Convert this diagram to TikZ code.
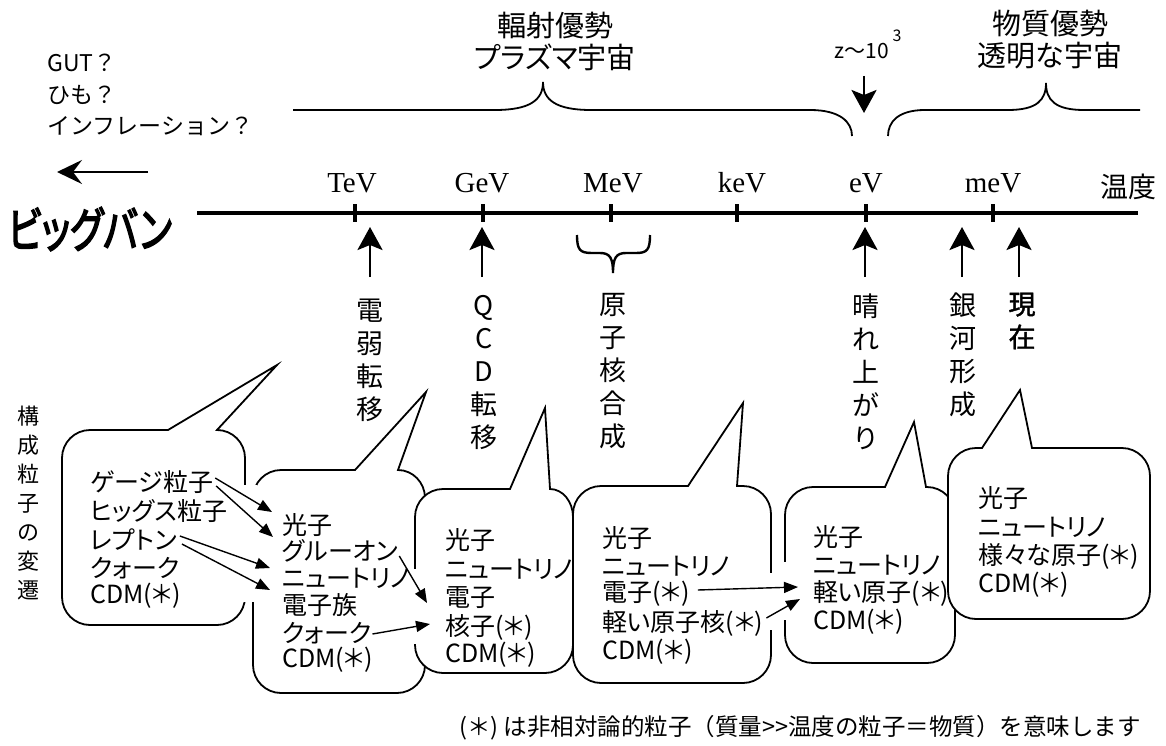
\documentclass[tikz,border=0pt]{standalone}
\usepackage{fontspec}
\usepackage{graphicx}
\usetikzlibrary{arrows.meta,calc}
\setmainfont{Noto Sans CJK JP}
\newfontfamily\jpfont{Noto Sans CJK JP}
\newfontfamily\jppfont{Noto Sans CJK JP}[RawFeature=+palt]
\newfontfamily\jpheavy{Noto Sans CJK JP}[FakeBold=3.5,RawFeature=+palt]
\newfontfamily\jpbold{Noto Sans CJK JP}[FakeBold=1.5]
\newfontfamily\tickfont{Liberation Serif}
% speech bubble: x1,y1,x2,y2, pointer base left, tip x, tip y, pointer base right
\newcommand{\bubble}[8]{%
  \path[bubble] (#5,#2) -- (#6,#7) -- (#8,#2)
    -- ({max(#8,#3-28)},#2) .. controls ({#3-0.45*(#3-max(#8,#3-28))},#2) and (#3,{#2+12.6}) .. (#3,{#2+28})
    -- (#3,{#4-28}) .. controls (#3,{#4-12.6}) and ({#3-12.6},#4) .. ({#3-28},#4)
    -- ({#1+28},#4) .. controls ({#1+12.6},#4) and (#1,{#4-12.6}) .. (#1,{#4-28})
    -- (#1,{#2+28}) .. controls (#1,{#2+12.6}) and ({#1+0.45*(min(#5,#1+28)-#1)},#2) .. ({min(#5,#1+28)},#2) -- cycle;}
\begin{document}
\begin{tikzpicture}[x=1pt,y=-1pt,
  bubble/.style={fill=white,draw=black,line width=1.8pt},
  axisline/.style={line width=3.2pt},
  bigarrow/.style={line width=2.8pt,-{Stealth[length=23pt,width=25pt,inset=5pt]}},
  thinarrow/.style={line width=1.4pt,-{Triangle[length=14pt,width=11pt]}},
  bubtxt/.style={font=\jppfont\fontsize{25}{28}\selectfont,anchor=west,inner sep=0pt},
  ticklab/.style={font=\tickfont\fontsize{29}{32}\selectfont,anchor=base,inner sep=0pt},
  vlab/.style={font=\jpfont\fontsize{27}{33}\selectfont,align=center,inner sep=0pt},
  toplab/.style={font=\jppfont\fontsize{29}{32}\selectfont,align=center,inner sep=0pt},
  brace/.style={line width=1.8pt},
  mask/.style={fill=white,draw=none}
]
\useasboundingbox (0,0) rectangle (1166,746);

% ---------- top-left ----------
\node[font=\jpfont\fontsize{23}{31.5}\selectfont,align=left,anchor=west,inner sep=0pt] (gut) at (47,95) {GUT？\\ひも？\\インフレーション？};
\coordinate (la-s) at (148,172);
\coordinate (la-e) at (57,172);
\draw[line width=2.5pt,-{Stealth[length=25pt,width=24pt,inset=9pt]}] (la-s) -- (la-e);
\node[font=\jpheavy\fontsize{48}{52}\selectfont,inner sep=0pt] (bb) at (90,229) {\scalebox{0.76}[1]{ビッグバン}};

% ---------- axis ----------
\coordinate (ax-l) at (197,213);
\coordinate (ax-r) at (1138,213);
\draw[axisline] (ax-l) -- (ax-r);
\foreach \x in {355,483,611,737,866,993}{
  \draw[axisline] (\x,204) -- (\x,222);
}
\node[ticklab] (tev) at (352,193) {TeV};
\node[ticklab] (gev) at (482,193) {GeV};
\node[ticklab] (mev) at (613,193) {MeV};
\node[ticklab] (kev) at (742,193) {keV};
\node[ticklab] (ev) at (866,193) {eV};
\node[ticklab] (mevv) at (993,193) {meV};
\node[font=\jpfont\fontsize{28}{32}\selectfont,inner sep=0pt] (temp) at (1128,187) {温度};

% ---------- top braces ----------
\node[toplab] (rad) at (555,41) {輻射優勢\\プラズマ宇宙};
\node[toplab] (mat) at (1050,40) {物質優勢\\透明な宇宙};
\draw[brace] (293,110) -- (495,110) .. controls (530,110) and (543,100) .. (543,82)
  .. controls (543,100) and (556,110) .. (591,110) -- (810,110)
  .. controls (840,110) and (852,122) .. (852,136);
\draw[brace] (888,136) .. controls (888,122) and (898,110) .. (925,110) -- (1008,110)
  .. controls (1037,110) and (1046,100) .. (1046,83)
  .. controls (1046,100) and (1055,110) .. (1084,110) -- (1140,110);
\node[font=\jpfont\fontsize{21}{24}\selectfont,inner sep=0pt] (z) at (862,51) {z～10};
\node[font=\jpfont\fontsize{16}{18}\selectfont,inner sep=0pt] (z3) at (897,36) {3};
\coordinate (zd-s) at (864,76);
\coordinate (zd-e) at (864,113);
\draw[bigarrow] (zd-s) -- (zd-e);

% ---------- labels below axis ----------
\node[vlab] (ew) at (370,360) {電\\弱\\転\\移};
\node[vlab] (qcd) at (484,373) {Q\\C\\D\\転\\移};
\node[vlab] (nuc) at (613,371) {原\\子\\核\\合\\成};
\node[vlab] (rec) at (866,372) {晴\\れ\\上\\が\\り};
\node[vlab] (gal) at (963,355) {銀\\河\\形\\成};
\node[vlab,font=\jpbold\fontsize{27}{33}\selectfont] (now) at (1022,321) {現\\在};
\foreach \x/\n in {370/ew,482/qcd,865/rec,962/gal,1019/now}{
  \coordinate (\n-foot) at (\x,277);
  \coordinate (\n-tip) at (\x,227);
  \draw[bigarrow] (\n-foot) -- (\n-tip);
}
\draw[line width=2.4pt] (577,235) .. controls (577,250) and (580,253) .. (592,253) -- (600,253)
  .. controls (610,253) and (613,258) .. (613,273)
  .. controls (613,258) and (616,253) .. (626,253) -- (636,253)
  .. controls (647,253) and (650,250) .. (650,235);
\node[font=\jpfont\fontsize{22}{29}\selectfont,align=center,inner sep=0pt] (hist) at (28,503) {構\\成\\粒\\子\\の\\変\\遷};

% ---------- bubbles ----------
\bubble{62}{430}{245}{625}{168}{277}{365}{217}
\bubble{253}{470}{425}{693}{355}{426}{392}{398}
\path[mask] (241,485) rectangle (257,602);
\bubble{415}{489}{573}{673}{510}{545}{408}{550}
\path[mask] (410,569) rectangle (420,644);
\bubble{573}{486}{771}{683}{688}{743}{403}{737}
\bubble{785}{487}{955}{663}{885}{914}{422}{926}
\path[mask] (766,573) rectangle (776,630);
\path[mask] (780,562) rectangle (790,620);
\bubble{948}{448}{1150}{619}{982}{1020}{390}{1032}

% ---------- bubble texts ----------
\node[bubtxt] (a1) at (90,482) {ゲージ粒子};
\node[bubtxt] (a2) at (90,511) {ヒッグス粒子};
\node[bubtxt] (a3) at (90,540) {レプトン};
\node[bubtxt] (a4) at (90,568) {クォーク};
\node[bubtxt] (a5) at (90,596) {CDM(＊)};

\node[bubtxt] (b1) at (282,525) {光子};
\node[bubtxt] (b2) at (282,551) {グルーオン};
\node[bubtxt] (b3) at (282,578) {ニュートリノ};
\node[bubtxt] (b4) at (282,605) {電子族};
\node[bubtxt] (b5) at (282,633) {クォーク};
\node[bubtxt] (b6) at (282,660) {CDM(＊)};

\node[bubtxt] (c1) at (445,540) {光子};
\node[bubtxt] (c2) at (445,569) {ニュートリノ};
\node[bubtxt] (c3) at (445,598) {電子};
\node[bubtxt] (c4) at (445,627) {核子(＊)};
\node[bubtxt] (c5) at (445,655) {CDM(＊)};

\node[bubtxt] (d1) at (602,538) {光子};
\node[bubtxt] (d2) at (602,566) {ニュートリノ};
\node[bubtxt] (d3) at (602,594) {電子(＊)};
\node[bubtxt] (d4) at (602,623) {軽い原子核(＊)};
\node[bubtxt] (d5) at (602,652) {CDM(＊)};

\node[bubtxt] (e1) at (813,537) {光子};
\node[bubtxt] (e2) at (813,565) {ニュートリノ};
\node[bubtxt] (e3) at (813,593) {軽い原子(＊)};
\node[bubtxt] (e4) at (813,622) {CDM(＊)};

\node[bubtxt] (f1) at (978,498) {光子};
\node[bubtxt] (f2) at (978,527) {ニュートリノ};
\node[bubtxt] (f3) at (978,556) {様々な原子(＊)};
\node[bubtxt] (f4) at (978,585) {CDM(＊)};

% ---------- arrows between bubbles ----------
\coordinate (tb1) at (272,512);
\coordinate (tb2) at (273,537);
\coordinate (tb3) at (270,568);
\coordinate (tb4) at (270,590);
\coordinate (tc1) at (427,603);
\coordinate (tc2) at (430,624);
\coordinate (te1) at (798,587);
\coordinate (te2) at (800,599);
\draw[thinarrow] ([xshift=2pt,yshift=4pt]a1.east) -- (tb1);
\draw[thinarrow] ([xshift=3pt,yshift=-4pt]a1.east) -- (tb2);
\draw[thinarrow] ([xshift=3pt,yshift=4pt]a3.east) -- (tb3);
\draw[thinarrow] ([xshift=5pt,yshift=-4pt]a3.east) -- (tb4);
\draw[thinarrow] ([xshift=1pt,yshift=-5pt]b2.east) -- (tc1);
\draw[thinarrow] ([xshift=1pt,yshift=-1pt]b5.east) -- (tc2);
\draw[thinarrow] ([xshift=8pt,yshift=4pt]d3.east) -- (te1);
\draw[thinarrow] ([xshift=3pt,yshift=5pt]d4.east) -- (te2);

% ---------- footnote ----------
\node[font=\jpfont\fontsize{23.5}{28}\selectfont,anchor=west,inner sep=0pt] (note) at (459,728) {(＊) は非相対論的粒子（質量>>温度の粒子＝物質）を意味します};
\end{tikzpicture}
\end{document}
